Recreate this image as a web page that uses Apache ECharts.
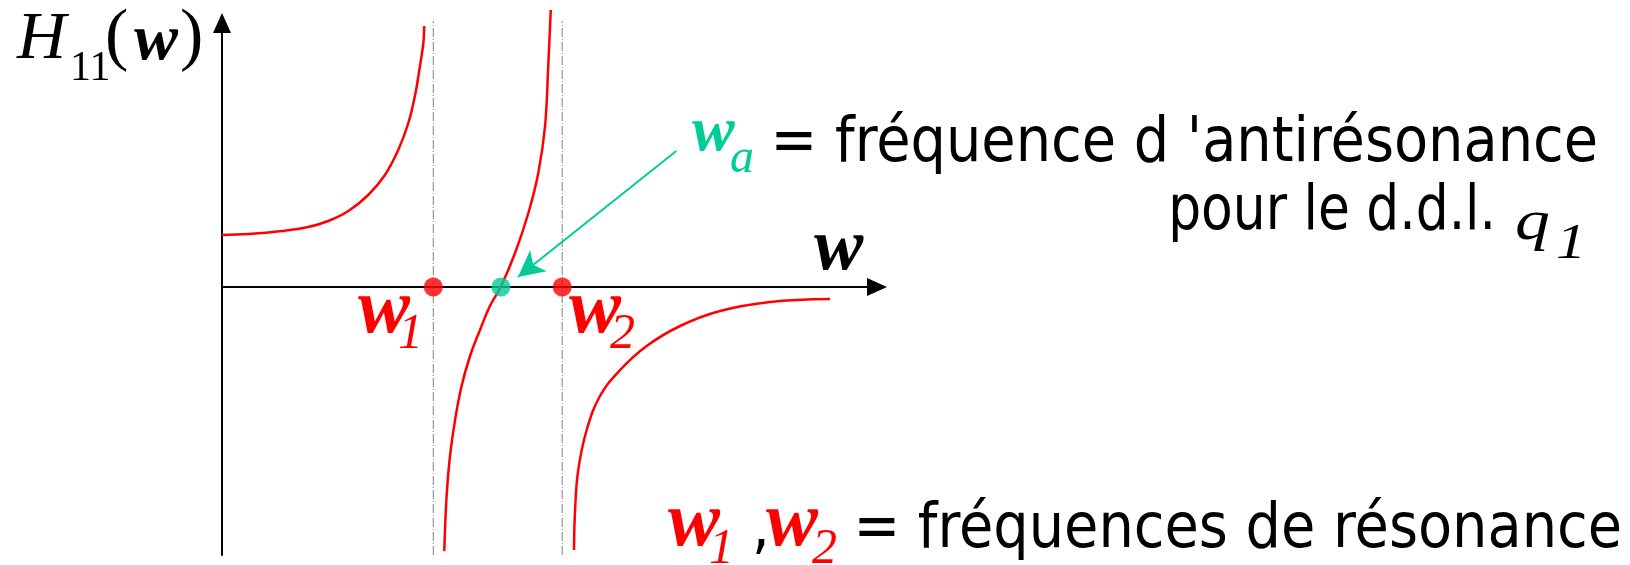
<!DOCTYPE html>
<html>
<head>
<meta charset="utf-8">
<script src="https://cdn.jsdelivr.net/npm/echarts@6/dist/echarts.min.js"></script>
<style>
  html, body { margin: 0; padding: 0; background: #fff; }
  #chart-container { width: 1630px; height: 565px; }
</style>
</head>
<body>
<div id="chart-container"></div>
<script>
// values (w along x, H11 along y)
const branchLow = [
    [0, 0.52], [0.124, 0.53], [0.283, 0.56], [0.408, 0.60], [0.503, 0.66],
    [0.598, 0.76], [0.692, 0.92], [0.771, 1.12], [0.834, 1.37], [0.882, 1.64],
    [0.913, 1.91], [0.937, 2.21], [0.953, 2.44], [0.957, 2.61]
];
const branchMid = [
    [1.052, -2.64], [1.063, -2.09], [1.079, -1.69], [1.103, -1.33], [1.134, -0.99],
    [1.174, -0.69], [1.221, -0.43], [1.268, -0.19], [1.319, 0], [1.387, 0.34],
    [1.450, 0.74], [1.497, 1.14], [1.529, 1.61], [1.544, 2.21], [1.556, 2.77]
];
const branchHigh = [
    [1.666, -2.63], [1.671, -2.23], [1.686, -1.83], [1.726, -1.43], [1.789, -1.09],
    [1.884, -0.83], [2.010, -0.59], [2.168, -0.39], [2.357, -0.24], [2.594, -0.15],
    [2.878, -0.12]
];
const resonances = [1.0, 1.61];
const antiResonance = 1.32;
const asymptoteSpan = [-2.68, 2.66];
const arrowFrom = [2.15, 1.36];
const arrowTo = [1.401, 0.10];

const RED = '#ff0000';
const GREEN = '#00cc99';
const SERIF = '"Liberation Serif", "Times New Roman", serif';
const SANS = '"DejaVu Sans Condensed", "DejaVu Sans", sans-serif';

var dom = document.getElementById('chart-container');
var myChart = echarts.init(dom, null, { renderer: 'canvas' });

function txt(x, y, text, font, color, align, scaleX) {
    return {
        type: 'text',
        x: x,
        y: y,
        scaleX: scaleX || 1,
        style: {
            text: text,
            font: font,
            fill: color || '#000',
            align: align || 'left',
            textAlign: align || 'left',
            verticalAlign: 'middle',
            textVerticalAlign: 'middle'
        }
    };
}

function curve(data) {
    return {
        type: 'line',
        data: data,
        smooth: 0.4,
        showSymbol: false,
        symbol: 'none',
        clip: false,
        silent: true,
        lineStyle: { color: RED, width: 2.5 },
        z: 3
    };
}

function asymptote(w) {
    return {
        type: 'line',
        data: [[w, asymptoteSpan[0]], [w, asymptoteSpan[1]]],
        symbol: 'none',
        silent: true,
        clip: false,
        lineStyle: { color: '#808080', width: 1, type: [9, 2, 1, 2] },
        z: 1
    };
}

var option = {
    animation: false,
    backgroundColor: '#fff',
    grid: { left: 222, top: 23, width: 655, height: 532 },
    xAxis: {
        type: 'value',
        min: 0,
        max: 3.1,
        axisLine: {
            onZero: true,
            symbol: ['none', 'triangle'],
            symbolSize: [18, 20],
            lineStyle: { color: '#000', width: 2 }
        },
        axisTick: { show: false },
        axisLabel: { show: false },
        splitLine: { show: false }
    },
    yAxis: {
        type: 'value',
        min: -2.68,
        max: 2.64,
        axisLine: {
            show: true,
            symbol: ['none', 'triangle'],
            symbolSize: [18, 20],
            lineStyle: { color: '#000', width: 2 }
        },
        axisTick: { show: false },
        axisLabel: { show: false },
        splitLine: { show: false }
    },
    series: [
        asymptote(resonances[0]),
        asymptote(resonances[1]),
        curve(branchLow),
        curve(branchMid),
        curve(branchHigh),
        {
            type: 'scatter',
            symbolSize: 19,
            silent: true,
            z: 5,
            data: [
                { value: [resonances[0], 0], itemStyle: { color: RED } },
                { value: [antiResonance, 0], itemStyle: { color: GREEN } },
                { value: [resonances[1], 0], itemStyle: { color: RED } }
            ],
            markLine: {
                silent: true,
                symbol: ['none', 'arrow'],
                symbolSize: [20, 26],
                label: { show: false },
                lineStyle: { color: GREEN, width: 2, type: 'solid' },
                data: [[{ coord: arrowFrom }, { coord: arrowTo }]]
            }
        }
    ],
    graphic: [
        // H11(w)
        txt(17, 40, 'H', 'italic 68px ' + SERIF),
        txt(70, 69, '11', '42px ' + SERIF),
        txt(105, 39, '(', '70px ' + SERIF),
        txt(134, 42, 'w', 'italic bold 66px ' + SERIF),
        txt(180, 39, ')', '70px ' + SERIF),
        // x axis name
        txt(814, 250, 'w', 'italic bold 74px ' + SERIF),
        // w1, w2 on the axis
        txt(358, 312, 'w', 'italic bold 78px ' + SERIF, RED),
        txt(398, 335, '1', 'italic 50px ' + SERIF, RED),
        txt(569, 312, 'w', 'italic bold 78px ' + SERIF, RED),
        txt(610, 335, '2', 'italic 50px ' + SERIF, RED),
        // wa
        txt(692, 133, 'w', 'italic bold 64px ' + SERIF, GREEN),
        txt(730, 159, 'a', 'italic 48px ' + SERIF, GREEN),
        txt(1598, 145, "= fréquence d 'antirésonance", '62px ' + SANS, '#000', 'right'),
        txt(1496, 213, 'pour le d.d.l.', '62px ' + SANS, '#000', 'right', 0.93),
        txt(1515, 224, 'q', 'italic 58px ' + SERIF, '#000', 'left', 1.2),
        txt(1556, 245, '1', 'italic 50px ' + SERIF, '#000', 'left', 1.2),
        // bottom legend line
        txt(668, 525, 'w', 'italic bold 78px ' + SERIF, RED),
        txt(709, 550, '1', 'italic 50px ' + SERIF, RED),
        txt(752, 531, ',', '62px ' + SANS),
        txt(766, 525, 'w', 'italic bold 78px ' + SERIF, RED),
        txt(812, 550, '2', 'italic 50px ' + SERIF, RED),
        txt(1622, 531, '= fréquences de résonance', '62px ' + SANS, '#000', 'right')
    ]
};

myChart.setOption(option);
</script>
</body>
</html>
